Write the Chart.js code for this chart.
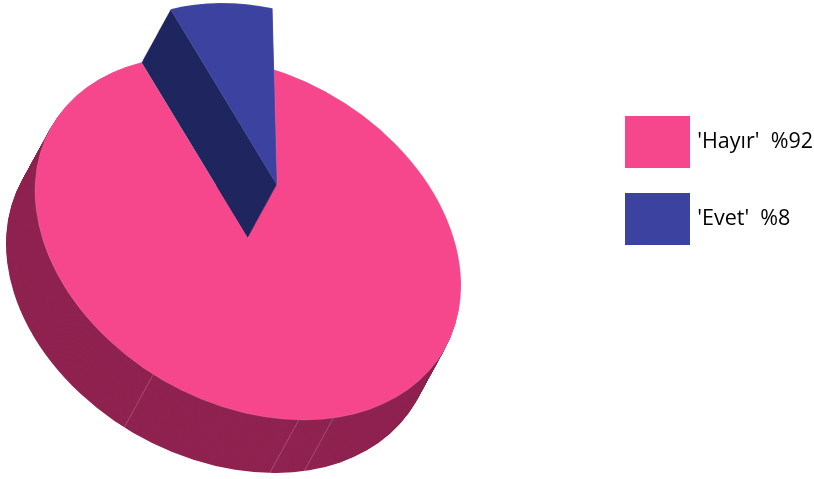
<!DOCTYPE html>
<html>
<head>
<meta charset="utf-8">
<title>Pie</title>
<script src="https://cdn.jsdelivr.net/npm/chart.js@4"></script>
<style>
  html, body { margin: 0; padding: 0; background: #fff; }
  canvas { display: block; }
</style>
</head>
<body>
<canvas id="pieChart" width="814" height="479"></canvas>
<script>
const labels = ["'Hayır'  %92", "'Evet'  %8"];
const values = [92, 8];
const topColors = ['#F6468C', '#3C429F'];
const wallColors = ['#8F2350', '#1F265F'];
// where the side wall of the pink slice has its thin seams (degrees on the pie)
const wallSeams = [116.4, 76.2, 66.4];

// the tilted look: a circle squeezed to an ellipse, with a depth vector for the walls
const tilt = { cx: 248, cy: 238, rx: 213, ry: 182, corr: 0.26, depthX: -29, depthY: 53 };
const LAYERS = 70;

function tiltMatrix(arc) {
    const R = arc.outerRadius;
    const a = tilt.rx / R;
    const b = tilt.ry * tilt.corr / R;
    const d = tilt.ry * Math.sqrt(1 - tilt.corr * tilt.corr) / R;
    return [a, b, 0, d, tilt.cx - a * arc.x, tilt.cy - b * arc.x - d * arc.y];
}

function paintArc(ctx, arc, matrix, dx, dy, fill, border) {
    const saved = arc.options;
    arc.options = Object.assign({}, saved, {
        backgroundColor: fill,
        borderColor: 'rgba(255,255,255,0.35)',
        borderWidth: border,
        borderAlign: 'center'
    });
    ctx.save();
    ctx.translate(dx, dy);
    ctx.transform(...matrix);
    arc.draw(ctx);
    ctx.restore();
    arc.options = saved;
}

function drawSeams(ctx) {
    const k = Math.sqrt(1 - tilt.corr * tilt.corr);
    ctx.save();
    ctx.strokeStyle = 'rgba(255,255,255,0.28)';
    ctx.lineWidth = 0.7;
    wallSeams.forEach(deg => {
        const t = deg * Math.PI / 180;
        const u = Math.cos(t), v = Math.sin(t);
        const x = tilt.cx + tilt.rx * u;
        const y = tilt.cy + tilt.ry * (tilt.corr * u + k * v);
        ctx.beginPath();
        ctx.moveTo(x, y);
        ctx.lineTo(x + tilt.depthX, y + tilt.depthY);
        ctx.stroke();
    });
    ctx.restore();
}

const tiltedPie = {
    id: 'tiltedPie',
    beforeDatasetDraw(chart, args) {
        const ctx = chart.ctx;
        const [hayir, evet] = chart.getDatasetMeta(args.index).data;
        const matrix = tiltMatrix(hayir);

        // pink slice sits on the base, its wall goes down along the depth vector
        for (let i = LAYERS; i >= 1; i--) {
            paintArc(ctx, hayir, matrix, tilt.depthX * i / LAYERS, tilt.depthY * i / LAYERS, wallColors[0], 0);
        }
        drawSeams(ctx);
        paintArc(ctx, hayir, matrix, 0, 0, topColors[0], 0.35);

        // blue slice is lifted by one depth above the pink top
        for (let i = LAYERS; i >= 1; i--) {
            const f = 1 - i / LAYERS;
            paintArc(ctx, evet, matrix, -tilt.depthX * f, -tilt.depthY * f, wallColors[1], 0);
        }
        paintArc(ctx, evet, matrix, -tilt.depthX, -tilt.depthY, topColors[1], 0.35);
        return false;
    }
};

new Chart(document.getElementById('pieChart').getContext('2d'), {
    type: 'pie',
    data: {
        labels: labels,
        datasets: [{
            data: values,
            backgroundColor: topColors,
            borderWidth: 0
        }]
    },
    plugins: [tiltedPie],
    options: {
        responsive: false,
        animation: false,
        rotation: -1.2,
        layout: { padding: { top: 87.5, right: -9 } },
        plugins: {
            tooltip: { enabled: false },
            legend: {
                position: 'right',
                align: 'start',
                labels: {
                    // box is 65x52 on screen; a same colour stroke makes up the rest so the text sits closer
                    boxWidth: 58,
                    boxHeight: 45,
                    padding: 32,
                    color: '#000',
                    font: { family: '"Open Sans"', size: 21.5 },
                    generateLabels() {
                        return labels.map((text, i) => ({
                            text: text,
                            fillStyle: topColors[i],
                            strokeStyle: topColors[i],
                            lineWidth: 7,
                            lineJoin: 'miter',
                            index: i
                        }));
                    }
                }
            }
        }
    }
});
</script>
</body>
</html>
